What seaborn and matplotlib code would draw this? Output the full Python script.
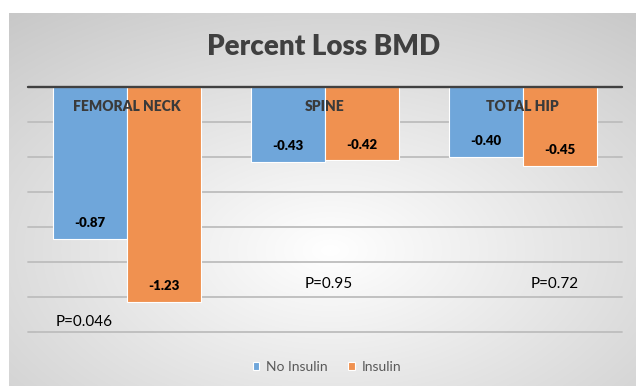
import numpy as np
import pandas as pd
import matplotlib.pyplot as plt
import seaborn as sns

# data
sites = ['FEMORAL NECK', 'SPINE', 'TOTAL HIP']
groups = ['No Insulin', 'Insulin']
no_insulin = [-0.87, -0.43, -0.40]
insulin = [-1.23, -0.42, -0.45]
p_labels = ['P=0.046', 'P=0.95', 'P=0.72']

df = pd.DataFrame({
    'Site': sites * 2,
    'Group': [groups[0]] * len(sites) + [groups[1]] * len(sites),
    'Loss': no_insulin + insulin,
})

sns.set_theme(style='white')
plt.rcParams['font.family'] = ['Lato', 'DejaVu Sans']

W, H = 636, 386
fig = plt.figure(figsize=(W / 100, H / 100), dpi=100)

# grey radial backdrop, like the Excel chart area
bg = fig.add_axes([9 / W, 0, 1 - 9 / W, 1 - 13 / H])
yy, xx = np.mgrid[0:373, 0:627]
d = np.sqrt(((xx - 321) / 627) ** 2 + ((yy - 237) / 373) ** 2)
shade = np.clip(1 - 0.265 * d, 0, 1)
bg.imshow(np.dstack([shade] * 3), aspect='auto', interpolation='bilinear')
bg.axis('off')

ax = fig.add_axes([28.4 / W, 1 - 332 / H, (621.5 - 28.4) / W, (332 - 87) / H])
ax.patch.set_alpha(0)

sns.barplot(data=df, x='Site', y='Loss', hue='Group',
            palette=['#6FA6DA', '#F09150'], saturation=1, width=0.75,
            edgecolor='white', linewidth=0.8, ax=ax)

ax.set_xlim(-0.5, 2.5)
ax.set_ylim(-1.4, 0)
ax.set_yticks(np.arange(-1.4, 0.01, 0.2))
ax.grid(axis='y', color='#BDBDBD', lw=1.3)
for gl in ax.get_ygridlines():
    gl.set_clip_on(False)
ax.set_axisbelow(True)
ax.tick_params(length=0, labelleft=False, labelbottom=False)
ax.set_xlabel('')
ax.set_ylabel('')
for s in ax.spines.values():
    s.set_visible(False)
ax.axhline(0, color='#404040', lw=1.7, clip_on=False, zorder=5)

# category names sit just under the zero line
for i, s in enumerate(sites):
    ax.text(i, -0.114, s, ha='center', va='center', fontsize=10,
            fontweight='heavy', color='#3A3A3A', zorder=6)

# value labels inside the bar ends
for cont in ax.containers:
    for bar in cont:
        h = bar.get_height()
        ax.annotate(f'{h:.2f}', (bar.get_x() + bar.get_width() / 2, h),
                    xytext=(0, 11.5), textcoords='offset points',
                    ha='center', va='center', fontsize=9.5,
                    fontweight='heavy', color='black', zorder=6)

p_pos = [(-0.216, -1.343), (1.02, -1.126), (2.16, -1.126)]
for (px, py), lab in zip(p_pos, p_labels):
    ax.text(px, py, lab, ha='center', va='center', fontsize=11, color='black')

sns.move_legend(ax, 'center', bbox_to_anchor=(327 / W, 1 - 367 / H),
                bbox_transform=fig.transFigure, ncol=2, frameon=False,
                title=None, fontsize=10, handlelength=0.45, handleheight=0.45,
                handletextpad=0.5, columnspacing=1.5, labelcolor='#595959')

fig.text(324 / W, 1 - 47 / H, 'Percent Loss BMD', ha='center', va='center',
         fontsize=20, fontweight='heavy', color='#404040')

fig.savefig('out.png', dpi=100)
